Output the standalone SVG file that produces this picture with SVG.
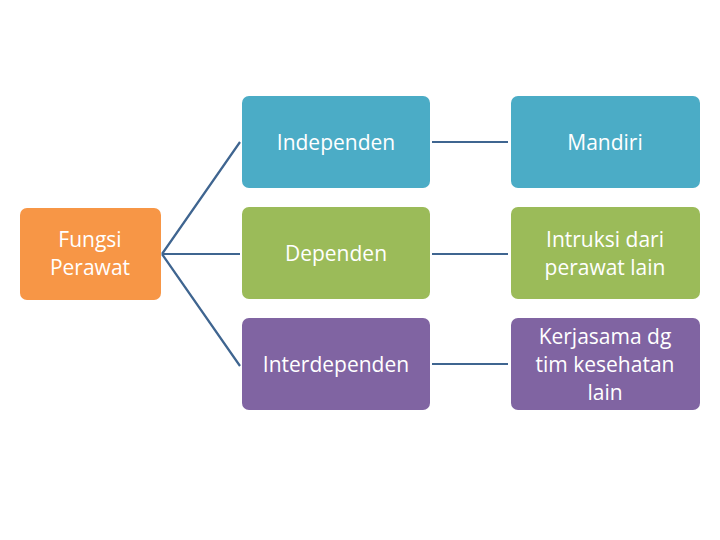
<svg xmlns="http://www.w3.org/2000/svg" width="720" height="540" viewBox="0 0 720 540">
<style>
.b{stroke:none}
.t{font-family:"Open Sans","Liberation Sans",sans-serif;font-size:21px;fill:#fff;text-anchor:middle}
.c{stroke:#3F6590;stroke-width:2.2;fill:none}
</style>
<rect width="720" height="540" fill="#fff"/>
<g id="connectors">
<path class="c" d="M162 254 L240 142 M162 254 L240 254 M162 254 L240 366"/>
<path class="c" d="M432 142 H508 M432 254 H508 M432 364 H508"/>
</g>
<g id="fungsi"><rect x="20" y="208" width="141" height="92" rx="7" fill="#F79646"/><text class="t" x="90" y="247">Fungsi</text><text class="t" x="90" y="275">Perawat</text></g>
<g id="independen"><rect x="242" y="96" width="188" height="92" rx="7" fill="#4BACC6"/><text class="t" x="336" y="150">Independen</text></g>
<g id="dependen"><rect x="242" y="207" width="188" height="92" rx="7" fill="#9BBB59"/><text class="t" x="336" y="261">Dependen</text></g>
<g id="interdependen"><rect x="242" y="318" width="188" height="92" rx="7" fill="#8064A2"/><text class="t" x="336" y="372">Interdependen</text></g>
<g id="mandiri"><rect x="511" y="96" width="189" height="92" rx="7" fill="#4BACC6"/><text class="t" x="605" y="150">Mandiri</text></g>
<g id="intruksi"><rect x="511" y="207" width="189" height="92" rx="7" fill="#9BBB59"/><text class="t" x="605" y="247">Intruksi dari</text><text class="t" x="605" y="275">perawat lain</text></g>
<g id="kerjasama"><rect x="511" y="318" width="189" height="92" rx="7" fill="#8064A2"/><text class="t" x="605" y="344">Kerjasama dg</text><text class="t" x="605" y="372">tim kesehatan</text><text class="t" x="605" y="400">lain</text></g>
</svg>
